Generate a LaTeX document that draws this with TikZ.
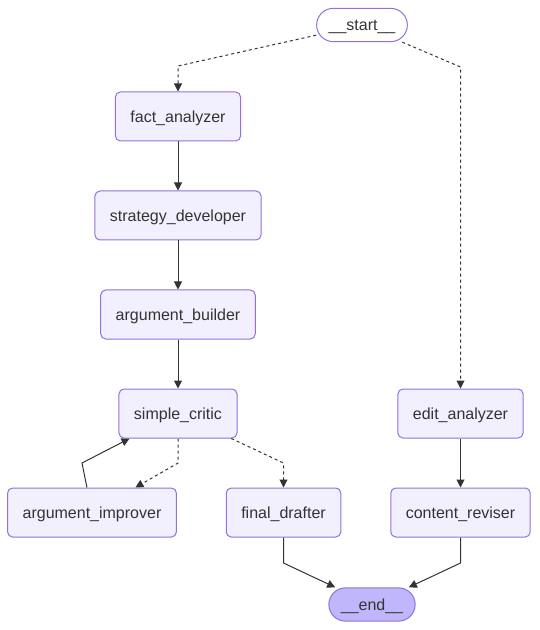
\documentclass[tikz,border=0pt]{standalone}
\usepackage{fontspec}
\setmainfont{Liberation Sans}
\usetikzlibrary{arrows.meta}
\definecolor{boxfill}{HTML}{F2F0FF}
\definecolor{boxline}{HTML}{9370DB}
\definecolor{endfill}{HTML}{BFB6FC}
\definecolor{ink}{HTML}{333333}
\begin{document}
\begin{tikzpicture}[x=0.75pt, y=-0.75pt,
    box/.style={draw=boxline, fill=boxfill, rounded corners=3.75pt, line width=0.75pt,
        minimum height=36.75pt, inner xsep=11.25pt, text=ink, text height=10.5pt, text depth=2pt,
        font=\fontsize{12}{14}\selectfont},
    terminal/.style={box, rounded corners=12.5pt, minimum height=25pt, inner xsep=9pt},
    edge/.style={draw=ink, line width=0.75pt, -{Triangle[length=6pt,width=6pt]}},
    cond/.style={edge, dash pattern=on 2.25pt off 2.25pt}]
    \useasboundingbox (0,0) rectangle (539,630);

    \node[terminal, fill=white] (start) at (362,25) {\_\_start\_\_};
    \node[box] (fact) at (178,116.5) {fact\_analyzer};
    \node[box] (strategy) at (178,215.5) {strategy\_developer};
    \node[box] (builder) at (178,314.5) {argument\_builder};
    \node[box] (critic) at (178,413.5) {simple\_critic};
    \node[box] (edit) at (460.5,413.5) {edit\_analyzer};
    \node[box] (improver) at (92,512.5) {argument\_improver};
    \node[box] (drafter) at (283.5,512.5) {final\_drafter};
    \node[box] (reviser) at (460.5,512.5) {content\_reviser};
    \node[terminal, fill=endfill] (end) at (372,604.5) {\_\_end\_\_};

    \draw[cond] (start) -- (178,66) -- (fact);
    \draw[cond] (start) -- (460.5,67) -- (edit);
    \foreach \a/\b in {fact/strategy, strategy/builder, builder/critic, edit/reviser}
        \draw[edge] (\a) -- (\b);
    \draw[cond] (critic.south) -- (178,463) -- (improver);
    \draw[cond] (critic) -- (283.5,463) -- (drafter);
    \draw[edge] (improver) -- (82,463) -- (critic);
    \draw[edge] (drafter.south) -- (283.5,563) -- (end.155);
    \draw[edge] (reviser.south) -- (460.5,563) -- (end.25);

\end{tikzpicture}
\end{document}
